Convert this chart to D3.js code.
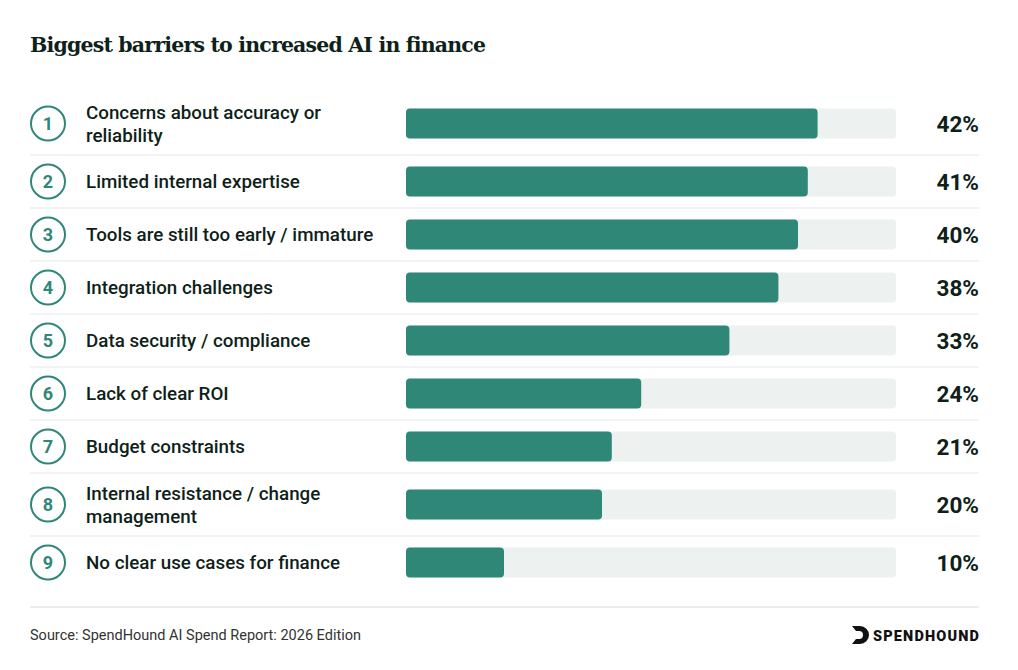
<!DOCTYPE html>
<html><head><meta charset="utf-8">
<script src="https://cdn.jsdelivr.net/npm/d3@7"></script>
<style>body{margin:0;background:#fff}</style>
</head><body>
<svg id="c" width="1018" height="670"></svg>
<script>
// data
const labels = [
  ["Concerns about accuracy or", "reliability"],
  ["Limited internal expertise"],
  ["Tools are still too early / immature"],
  ["Integration challenges"],
  ["Data security / compliance"],
  ["Lack of clear ROI"],
  ["Budget constraints"],
  ["Internal resistance / change", "management"],
  ["No clear use cases for finance"]
];
const values = [42, 41, 40, 38, 33, 24, 21, 20, 10];

const green = "#2f8778", dark = "#0f1f1a";
const svg = d3.select("#c");

svg.append("text").attr("x", 30).attr("y", 52)
  .attr("font-family", "DejaVu Serif").attr("font-weight", "bold")
  .attr("font-size", 20.5).attr("fill", dark).attr("letter-spacing", -1)
  .attr("textLength", 455)
  .text("Biggest barriers to increased AI in finance");

// row layout: taller rows for two-line labels
const heights = labels.map(l => l.length > 1 ? 63 : 53);
let y0 = 92;
const rows = labels.map((l, i) => {
  const r = {label: l, value: values[i], i, top: y0, h: heights[i]};
  y0 += heights[i];
  return r;
});

const x = d3.scaleLinear().domain([0, 50]).range([406, 896]);

const g = svg.selectAll("g.row").data(rows).join("g")
  .attr("transform", d => `translate(0,${d.top + d.h / 2})`);

g.append("circle").attr("cx", 48).attr("cy", 0).attr("r", 17)
  .attr("fill", "none").attr("stroke", green).attr("stroke-width", 2);
g.append("text").attr("x", 48).attr("y", 6.5).attr("text-anchor", "middle")
  .attr("font-family", "Roboto").attr("font-weight", "bold").attr("font-size", 18)
  .attr("fill", green).text(d => d.i + 1);

g.each(function(d) {
  const t = d3.select(this).append("text").attr("font-family", "Roboto")
    .attr("font-weight", 500).attr("font-size", 18.8).attr("fill", dark);
  const n = d.label.length;
  d.label.forEach((s, k) => t.append("tspan").attr("x", 86)
    .attr("y", 6.5 + (k - (n - 1) / 2) * 23).text(s));
});

g.append("rect").attr("x", x(0)).attr("y", -15).attr("height", 30)
  .attr("width", x(50) - x(0)).attr("rx", 4).attr("fill", "#edf1f0");
g.append("rect").attr("x", x(0)).attr("y", -15).attr("height", 30)
  .attr("width", d => x(d.value) - x(0)).attr("rx", 4).attr("fill", green);

g.append("text").attr("x", 979).attr("y", 8.5).attr("text-anchor", "end")
  .attr("font-family", "Roboto").attr("font-weight", "bold").attr("font-size", 22.5)
  .attr("fill", dark).text(d => d.value + "%");

// separators
svg.selectAll("line.sep").data(rows.slice(0, -1)).join("line")
  .attr("x1", 30).attr("x2", 979)
  .attr("y1", d => d.top + d.h).attr("y2", d => d.top + d.h)
  .attr("stroke", "#e6e9e8").attr("stroke-width", 1.2);
svg.append("line").attr("x1", 30).attr("x2", 979).attr("y1", 607).attr("y2", 607)
  .attr("stroke", "#e6e9e8").attr("stroke-width", 1.5);

svg.append("text").attr("x", 30).attr("y", 640)
  .attr("font-family", "Roboto").attr("font-size", 14.5).attr("fill", "#333")
  .text("Source: SpendHound AI Spend Report: 2026 Edition");

// logo
svg.append("path").attr("d", "M852,626 L860,626 A9,9 0 0 1 860,644 L852,644 L856,639 L859,639 A4,4 0 0 0 859,631 L856,631 Z")
  .attr("fill", "#111");
svg.append("text").attr("x", 979).attr("y", 641).attr("text-anchor", "end")
  .attr("font-family", "Roboto").attr("font-weight", 900).attr("font-size", 14.5)
  .attr("fill", "#111").attr("textLength", 106).text("SPENDHOUND");
</script>
</body></html>
